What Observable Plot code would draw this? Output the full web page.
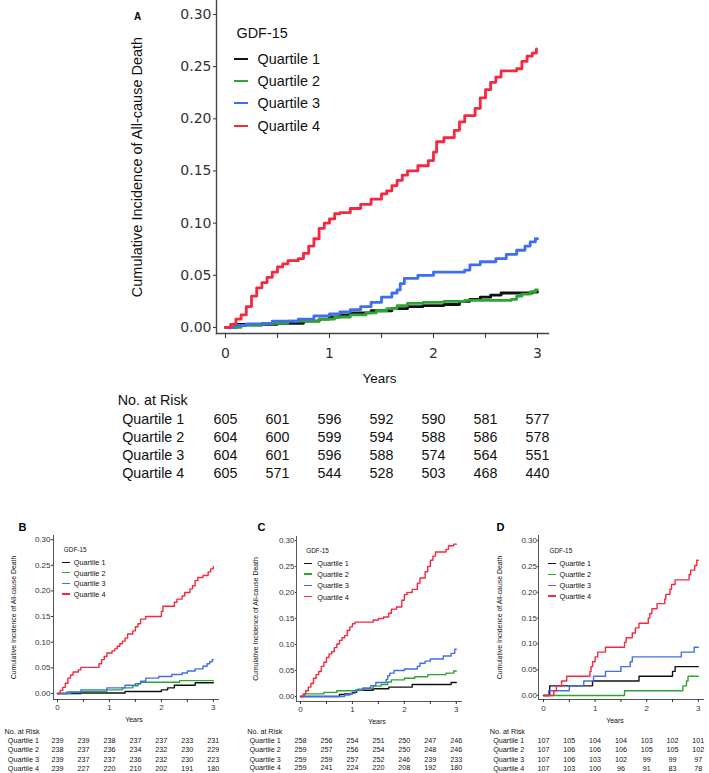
<!DOCTYPE html>
<html><head><meta charset="utf-8">
<script src="https://cdn.jsdelivr.net/npm/d3@7"></script>
<script src="https://cdn.jsdelivr.net/npm/@observablehq/plot@0.6"></script>
<style>
body{margin:0;background:#fff;}
#page{position:relative;width:709px;height:773px;overflow:hidden;font-family:"Liberation Sans",Arial,sans-serif;background:#fff;}
.pnl{position:absolute;}
.lgl{position:absolute;}
</style></head><body><div id="page"></div>
<script>
// ---------- shared labels ----------
const quartiles = ["Quartile 1","Quartile 2","Quartile 3","Quartile 4"];
const colors = ["#111111","#2ca532","#3f6ff0","#f5283f"];
const riskTimes = [0,0.5,1,1.5,2,2.5,3];
const xTicks = [0,0.5,1,1.5,2,2.5,3];
const yTicks = [0,0.05,0.1,0.15,0.2,0.25,0.3];
const legendTitle = "GDF-15";
const yTitle = "Cumulative Incidence of All-cause Death";
const xTitle = "Years";
const riskTitle = "No. at Risk";
const panelLetters = ["A","B","C","D"];

// ---------- Panel A curves [years, cumulative incidence] ----------
const A_q1 = [[0,0],[0.1,0.003],[0.5,0.004],[0.75,0.006],[0.9,0.008],[1.0,0.010],[1.1,0.012],[1.2,0.014],[1.4,0.016],[1.6,0.018],[1.75,0.020],[1.9,0.021],[2.1,0.022],[2.25,0.025],[2.35,0.027],[2.45,0.029],[2.55,0.031],[2.65,0.033],[2.95,0.034],[3.0,0.034]];
const A_q2 = [[0,0],[0.15,0.002],[0.35,0.004],[0.6,0.006],[0.9,0.008],[1.05,0.010],[1.2,0.012],[1.35,0.014],[1.45,0.016],[1.55,0.018],[1.65,0.021],[1.75,0.023],[1.9,0.024],[2.1,0.025],[2.3,0.026],[2.75,0.027],[2.8,0.030],[2.85,0.032],[2.93,0.034],[2.98,0.036],[3.0,0.036]];
const A_q3 = [[0,0],[0.08,0.002],[0.2,0.0035],[0.45,0.006],[0.7,0.008],[0.85,0.011],[1.0,0.013],[1.1,0.015],[1.2,0.017],[1.3,0.020],[1.4,0.024],[1.5,0.029],[1.6,0.033],[1.65,0.036],[1.68,0.042],[1.72,0.047],[1.85,0.050],[2.0,0.053],[2.3,0.055],[2.35,0.060],[2.45,0.063],[2.6,0.066],[2.7,0.070],[2.8,0.074],[2.88,0.078],[2.93,0.082],[2.98,0.085],[3.0,0.085]];
const A_q4 = [[0,0],[0.05,0.003],[0.1,0.008],[0.15,0.012],[0.2,0.02],[0.25,0.03],[0.3,0.038],[0.35,0.043],[0.4,0.048],[0.45,0.053],[0.5,0.058],[0.55,0.061],[0.6,0.064],[0.7,0.066],[0.75,0.071],[0.8,0.078],[0.85,0.085],[0.9,0.095],[0.95,0.100],[1.0,0.104],[1.05,0.109],[1.1,0.110],[1.2,0.114],[1.3,0.118],[1.4,0.123],[1.5,0.128],[1.55,0.131],[1.6,0.136],[1.65,0.141],[1.7,0.146],[1.75,0.150],[1.85,0.155],[1.95,0.160],[2.0,0.168],[2.03,0.178],[2.1,0.182],[2.2,0.189],[2.25,0.197],[2.3,0.203],[2.4,0.210],[2.45,0.220],[2.5,0.228],[2.55,0.235],[2.6,0.240],[2.65,0.246],[2.8,0.248],[2.85,0.255],[2.9,0.260],[2.95,0.263],[2.99,0.267]];

// ---------- Panel B curves ----------
const B_q1 = [[0,0],[0.45,0.001],[1.3,0.004],[2.0,0.007],[2.12,0.011],[2.25,0.016],[2.65,0.021],[3.0,0.021]];
const B_q2 = [[0,0],[0.25,0.002],[0.45,0.004],[0.95,0.007],[1.25,0.011],[1.45,0.015],[1.55,0.019],[1.6,0.022],[2.35,0.025],[3.0,0.025]];
const B_q3 = [[0,0],[0.18,0.003],[0.45,0.007],[0.95,0.011],[1.3,0.016],[1.5,0.019],[1.6,0.024],[1.7,0.030],[1.95,0.033],[2.2,0.037],[2.4,0.040],[2.5,0.044],[2.65,0.048],[2.8,0.053],[2.88,0.058],[2.93,0.062],[2.98,0.066],[3.0,0.066]];
const B_q4 = [[0,0],[0.05,0.006],[0.1,0.012],[0.15,0.02],[0.2,0.03],[0.25,0.036],[0.3,0.042],[0.4,0.046],[0.45,0.051],[0.8,0.058],[0.85,0.066],[0.9,0.072],[0.95,0.079],[1.05,0.083],[1.1,0.087],[1.15,0.092],[1.2,0.097],[1.25,0.102],[1.3,0.108],[1.35,0.116],[1.45,0.122],[1.5,0.130],[1.55,0.136],[1.6,0.145],[1.7,0.150],[2.0,0.160],[2.03,0.170],[2.25,0.178],[2.3,0.184],[2.4,0.190],[2.45,0.197],[2.55,0.204],[2.6,0.210],[2.65,0.220],[2.7,0.226],[2.8,0.230],[2.9,0.237],[2.95,0.243],[3.0,0.247]];

// ---------- Panel C curves ----------
const C_q1 = [[0,0],[0.75,0.004],[0.85,0.005],[1.0,0.008],[1.08,0.012],[1.4,0.015],[1.7,0.018],[2.15,0.023],[2.9,0.027],[3.0,0.027]];
const C_q2 = [[0,0],[0.08,0.005],[0.45,0.008],[0.7,0.011],[1.1,0.014],[1.2,0.016],[1.4,0.020],[1.55,0.023],[1.68,0.028],[1.75,0.032],[2.0,0.035],[2.2,0.038],[2.45,0.042],[2.8,0.045],[2.95,0.049],[3.0,0.049]];
const C_q3 = [[0,0],[0.85,0.003],[0.95,0.006],[1.05,0.012],[1.2,0.016],[1.35,0.021],[1.45,0.027],[1.65,0.033],[1.68,0.040],[1.72,0.045],[1.8,0.050],[2.0,0.053],[2.25,0.058],[2.3,0.064],[2.4,0.068],[2.5,0.072],[2.75,0.078],[2.9,0.083],[2.97,0.091],[3.0,0.091]];
const C_q4 = [[0,0],[0.05,0.005],[0.1,0.011],[0.15,0.018],[0.2,0.025],[0.25,0.035],[0.3,0.042],[0.35,0.048],[0.4,0.058],[0.45,0.066],[0.5,0.075],[0.55,0.082],[0.6,0.086],[0.65,0.094],[0.7,0.101],[0.75,0.108],[0.8,0.113],[0.85,0.117],[0.9,0.127],[0.95,0.134],[1.0,0.140],[1.05,0.143],[1.4,0.147],[1.5,0.150],[1.6,0.153],[1.7,0.160],[1.75,0.168],[1.85,0.172],[1.95,0.185],[2.0,0.196],[2.05,0.200],[2.15,0.206],[2.25,0.218],[2.3,0.228],[2.4,0.240],[2.45,0.250],[2.5,0.262],[2.55,0.270],[2.6,0.278],[2.8,0.283],[2.85,0.290],[2.95,0.293],[3.0,0.293]];

// ---------- Panel D curves ----------
const D_q1 = [[0,0],[0.12,0.0187],[0.95,0.028],[1.85,0.0374],[2.5,0.0467],[2.55,0.056],[3.0,0.056]];
const D_q2 = [[0,0],[1.57,0.0093],[2.7,0.0187],[2.77,0.028],[2.8,0.0374],[3.0,0.0374]];
const D_q3 = [[0,0],[0.1,0.0093],[0.5,0.0187],[0.78,0.028],[0.97,0.0374],[1.2,0.0467],[1.5,0.056],[1.68,0.0654],[1.72,0.0748],[2.67,0.084],[2.92,0.0935],[3.0,0.0935]];
const D_q4 = [[0,0],[0.2,0.0093],[0.25,0.0187],[0.35,0.028],[0.45,0.0374],[0.9,0.0467],[0.92,0.056],[0.95,0.0654],[1.0,0.0748],[1.05,0.084],[1.2,0.0935],[1.57,0.103],[1.6,0.112],[1.72,0.121],[1.78,0.131],[1.85,0.140],[2.03,0.150],[2.06,0.159],[2.1,0.168],[2.2,0.178],[2.35,0.187],[2.37,0.196],[2.45,0.206],[2.48,0.215],[2.55,0.224],[2.82,0.234],[2.85,0.243],[2.93,0.252],[2.97,0.262],[3.0,0.262]];

// ---------- numbers at risk ----------
const A_risk1 = [605,601,596,592,590,581,577];
const A_risk2 = [604,600,599,594,588,586,578];
const A_risk3 = [604,601,596,588,574,564,551];
const A_risk4 = [605,571,544,528,503,468,440];
const B_risk1 = [239,239,238,237,237,233,231];
const B_risk2 = [238,237,236,234,232,230,229];
const B_risk3 = [239,237,237,236,232,230,223];
const B_risk4 = [239,227,220,210,202,191,180];
const C_risk1 = [258,256,254,251,250,247,246];
const C_risk2 = [259,257,256,254,250,248,246];
const C_risk3 = [259,259,257,252,246,239,233];
const C_risk4 = [259,241,224,220,208,192,180];
const D_risk1 = [107,105,104,104,103,102,101];
const D_risk2 = [107,106,106,106,105,105,102];
const D_risk3 = [107,106,103,102,99,99,97];
const D_risk4 = [107,103,100,96,91,83,78];

// ---------- layout ----------
const panels = [
 {curves:[A_q1,A_q2,A_q3,A_q4], risk:[A_risk1,A_risk2,A_risk3,A_risk4],
  left:0, top:0, width:709, height:490, mL:216, mR:161, mT:0, mB:157,
  xDom:[-0.0865,3.106], yDom:[-0.0058,0.3134],
  lw:2.8, axisW:1.4, tickFont:14, tickFamily:"DejaVu Sans", xTick:[5,10], yTick:[3,2],
  letter:{dx:-79, dy:16, size:10}, ytitle:{dx:-79, size:14.5}, years:{dx:-3, dy:45, size:13.5},
  riskTitleDx:-98.7, riskLabelDx:-94.3, riskDy:[67,85.5,103.7,122,140.3], riskFont:14.3,
  lg:{tx:236, ty:33, tf:14.4, lx:[234,248], textX:257, rows:[59.3,81.3,103.3,125.7], lh:2.2, font:14.4}},
 {curves:[B_q1,B_q2,B_q3,B_q4], risk:[B_risk1,B_risk2,B_risk3,B_risk4],
  left:0, top:510, width:236, height:263, mL:53, mR:18, mT:25, mB:74,
  xDom:[-0.077,3.1], yDom:[-0.0117,0.308],
  lw:1.4, axisW:0.9, tickFont:8, tickFamily:"Liberation Sans", xTick:[3,2], yTick:[2,1],
  letter:{dx:-31, dy:-8, size:11}, ytitle:{dx:-39.7, size:6.9}, years:{dx:-2, dy:20.3, size:7},
  riskTitleDx:-49, riskLabelDx:-45.7, riskDy:[31.7,41,50.3,59.7,68.7], riskFont:7.2,
  lg:{tx:63.3, ty:549, tf:6.4, lx:[62.3,70], textX:73.3, rows:[562.3,572.7,583.3,594], lh:1.3, font:7.3}},
 {curves:[C_q1,C_q2,C_q3,C_q4], risk:[C_risk1,C_risk2,C_risk3,C_risk4],
  left:236, top:510, width:236, height:263, mL:60, mR:11, mT:26, mB:72,
  xDom:[-0.077,3.1], yDom:[-0.0096,0.3077],
  lw:1.4, axisW:0.9, tickFont:8, tickFamily:"Liberation Sans", xTick:[3,2], yTick:[1,1],
  letter:{dx:-35, dy:-9, size:11}, ytitle:{dx:-40.3, size:6.9}, years:{dx:-2, dy:20.7, size:7},
  riskTitleDx:-49.3, riskLabelDx:-47, riskDy:[29.7,39,48.3,57.7,66.3], riskFont:7.2,
  lg:{tx:305.7, ty:550.7, tf:6.4, lx:[304,311.7], textX:316.7, rows:[563.3,574,585.3,596.7], lh:1.3, font:7.3}},
 {curves:[D_q1,D_q2,D_q3,D_q4], risk:[D_risk1,D_risk2,D_risk3,D_risk4],
  left:472, top:510, width:237, height:263, mL:66, mR:6, mT:25, mB:74,
  xDom:[-0.097,3.1], yDom:[-0.0077,0.31],
  lw:1.4, axisW:0.9, tickFont:8, tickFamily:"Liberation Sans", xTick:[3,3], yTick:[1,0.5],
  letter:{dx:-38, dy:-8, size:11}, ytitle:{dx:-38.7, size:6.9}, years:{dx:-6, dy:21.7, size:7},
  riskTitleDx:-48.7, riskLabelDx:-45.3, riskDy:[31.7,41,50.3,59.7,68.7], riskFont:7.2,
  lg:{tx:549, ty:550.7, tf:6.4, lx:[547.7,555.7], textX:559, rows:[563.3,574.3,585.3,596], lh:1.3, font:7.3}}
];

const page = document.getElementById("page");
const FF = "Liberation Sans, Arial, sans-serif";

panels.forEach((p, pi) => {
  const fx = p.left + p.mL, fy = p.top + p.mT; // frame origin on the page
  const L = p.lg;
  const marks = [];
  marks.push(Plot.frame({anchor:"left", stroke:"#444", strokeWidth:p.axisW}));
  marks.push(Plot.frame({anchor:"bottom", stroke:"#444", strokeWidth:p.axisW}));
  marks.push(Plot.axisX({ticks:xTicks, tickFormat:d => Number.isInteger(d) ? String(d) : "",
    tickSize:p.xTick[0], tickPadding:p.xTick[1], fontSize:p.tickFont, fontFamily:p.tickFamily,
    color:"#333", label:null}));
  marks.push(Plot.axisY({ticks:yTicks, tickFormat:d3.format(".2f"),
    tickSize:p.yTick[0], tickPadding:p.yTick[1], fontSize:p.tickFont, fontFamily:p.tickFamily,
    color:"#333", label:null}));
  p.curves.forEach((c, i) => marks.push(Plot.line(c, {x:d => d[0], y:d => d[1], curve:"step-after",
    stroke:colors[i], strokeWidth:p.lw})));
  // panel letter
  marks.push(Plot.text([panelLetters[pi]], {frameAnchor:"top-left", textAnchor:"middle", lineAnchor:"middle",
    dx:p.letter.dx, dy:p.letter.dy, fontSize:p.letter.size, fontWeight:"bold", fill:"#000"}));
  // axis titles
  marks.push(Plot.text([yTitle], {frameAnchor:"left", textAnchor:"middle", lineAnchor:"middle", rotate:-90,
    dx:p.ytitle.dx, fontSize:p.ytitle.size, fill:"#111"}));
  marks.push(Plot.text([xTitle], {frameAnchor:"bottom", textAnchor:"middle", lineAnchor:"middle",
    dx:p.years.dx, dy:p.years.dy, fontSize:p.years.size, fill:"#111"}));
  // legend text
  marks.push(Plot.text([legendTitle], {frameAnchor:"top-left", textAnchor:"start", lineAnchor:"middle",
    dx:L.tx - fx, dy:L.ty - fy, fontSize:L.tf, fill:"#111"}));
  quartiles.forEach((q, i) => marks.push(Plot.text([q], {frameAnchor:"top-left", textAnchor:"start",
    lineAnchor:"middle", dx:L.textX - fx, dy:L.rows[i] - fy, fontSize:L.font, fill:"#111"})));
  // risk table
  marks.push(Plot.text([riskTitle], {frameAnchor:"bottom-left", textAnchor:"start", lineAnchor:"middle",
    dx:p.riskTitleDx, dy:p.riskDy[0], fontSize:p.riskFont, fill:"#111"}));
  p.risk.forEach((row, i) => {
    marks.push(Plot.text([quartiles[i]], {frameAnchor:"bottom-left", textAnchor:"start", lineAnchor:"middle",
      dx:p.riskLabelDx, dy:p.riskDy[i+1], fontSize:p.riskFont, fill:"#111"}));
    marks.push(Plot.text(row, {x:(d, j) => riskTimes[j], text:d => String(d), frameAnchor:"bottom",
      textAnchor:"middle", lineAnchor:"middle", dy:p.riskDy[i+1], fontSize:p.riskFont, fill:"#111"}));
  });
  const svg = Plot.plot({
    width:p.width, height:p.height,
    marginLeft:p.mL, marginRight:p.mR, marginTop:p.mT, marginBottom:p.mB,
    style:{fontFamily:FF, background:"transparent", color:"#111", overflow:"visible"},
    x:{domain:p.xDom}, y:{domain:p.yDom},
    marks
  });
  svg.classList.add("pnl");
  svg.style.left = p.left + "px";
  svg.style.top = p.top + "px";
  page.appendChild(svg);

  // legend key lines (HTML overlay)
  quartiles.forEach((q, i) => {
    const ln = document.createElement("div");
    ln.className = "lgl";
    ln.style.left = L.lx[0] + "px";
    ln.style.width = (L.lx[1] - L.lx[0]) + "px";
    ln.style.top = (L.rows[i] - L.lh / 2) + "px";
    ln.style.height = L.lh + "px";
    ln.style.background = colors[i];
    page.appendChild(ln);
  });
});
</script>
</body></html>
